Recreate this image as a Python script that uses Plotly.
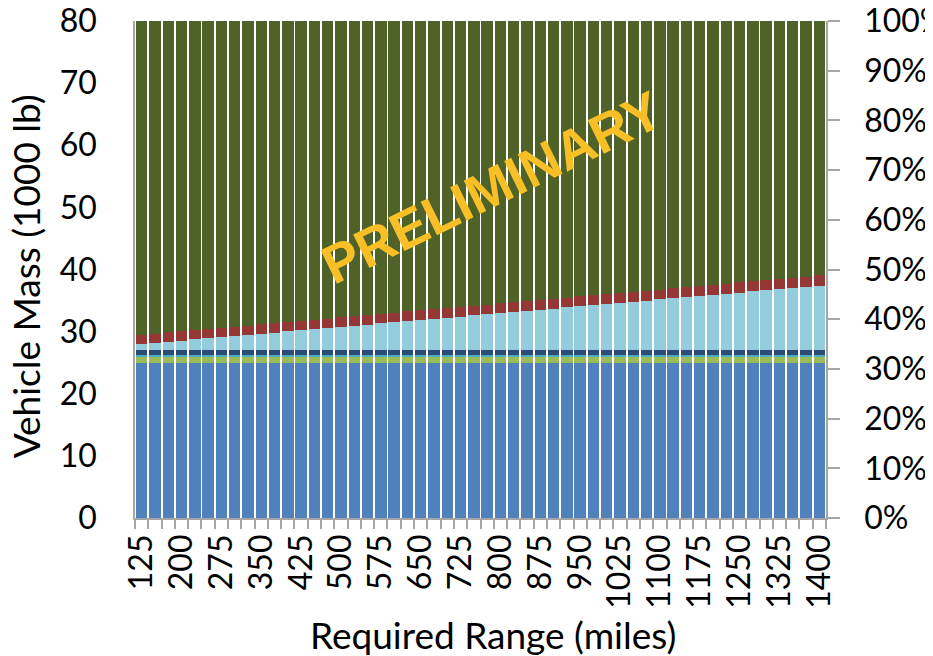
import plotly.graph_objects as go

ranges = [125 + 25 * i for i in range(52)]
tick_labels = [str(r) for r in ranges[::3]]
pct_vals = [0, 10, 20, 30, 40, 50, 60, 70, 80, 90, 100]
pct_labels = [f"{p}%" for p in pct_vals]

blue_base = [24.9] * 52
green_layer = [1.0] * 52
teal_layer = [0.35] * 52
navy_layer = [0.85] * 52
light_blue = [0.90, 1.08, 1.27, 1.45, 1.64, 1.82, 2.01, 2.19, 2.37, 2.56,
              2.74, 2.93, 3.11, 3.30, 3.48, 3.66, 3.85, 4.03, 4.22, 4.40,
              4.59, 4.77, 4.95, 5.14, 5.32, 5.51, 5.69, 5.88, 6.06, 6.24,
              6.43, 6.61, 6.80, 6.98, 7.17, 7.35, 7.53, 7.72, 7.90, 8.09,
              8.27, 8.46, 8.64, 8.82, 9.01, 9.19, 9.38, 9.56, 9.75, 9.93,
              10.11, 10.30]
red_layer = [1.50] * 10 + [1.53] * 10 + [1.56] * 10 + [1.59] * 10 + [1.62] * 6 + [1.65] * 6
dark_green = [50.50, 50.32, 50.13, 49.95, 49.76, 49.58, 49.39, 49.21, 49.03, 48.84,
              48.63, 48.44, 48.26, 48.07, 47.89, 47.71, 47.52, 47.34, 47.15, 46.97,
              46.75, 46.57, 46.39, 46.20, 46.02, 45.83, 45.65, 45.46, 45.28, 45.10,
              44.88, 44.70, 44.51, 44.33, 44.14, 43.96, 43.78, 43.59, 43.41, 43.22,
              43.01, 42.82, 42.64, 42.46, 42.27, 42.09, 41.87, 41.69, 41.50, 41.32,
              41.14, 40.95]

series = [
    ("Base", blue_base, "#4F81BD"),
    ("Layer 2", green_layer, "#9BBB59"),
    ("Layer 3", teal_layer, "#4BACC6"),
    ("Layer 4", navy_layer, "#2A4B74"),
    ("Layer 5", light_blue, "#93CDDD"),
    ("Layer 6", red_layer, "#953735"),
    ("Layer 7", dark_green, "#4F6228"),
]

fig = go.Figure()
for name, vals, col in series:
    fig.add_trace(go.Bar(x=ranges, y=vals, name=name, marker_color=col,
                         marker_line_width=0))

# invisible trace for the right percentage axis
fig.add_trace(go.Scatter(x=[ranges[0]], y=[0], yaxis="y2", mode="markers",
                         marker=dict(opacity=0), showlegend=False, hoverinfo="skip"))

font_family = "Lato"
axis_gray = "#A6A6A6"

fig.update_layout(
    width=925, height=648,
    margin=dict(l=127, r=107, t=13, b=138),
    barmode="stack", bargap=0.14,
    showlegend=False,
    plot_bgcolor="white", paper_bgcolor="white",
    font=dict(family=font_family, size=32, color="black"),
    xaxis=dict(
        automargin=False,
        range=[ranges[0] - 12.5, ranges[-1] + 12.5],
        tickmode="array", tickvals=ranges[::3], ticktext=tick_labels,
        tickangle=-90, ticks="", showgrid=False, zeroline=False,
        showline=True, linecolor=axis_gray, linewidth=1.5,
        ticklabelstandoff=2, tickfont=dict(size=32),
        minor=dict(tickmode="linear", tick0=ranges[0] - 12.5, dtick=25,
                   ticks="outside", ticklen=9, tickcolor=axis_gray, tickwidth=1.5,
                   showgrid=False),
    ),
    yaxis=dict(
        automargin=False,
        range=[0, 80], dtick=10, showgrid=False, zeroline=False,
        showline=True, linecolor=axis_gray, linewidth=1.5,
        ticks="", ticklabelstandoff=30, tickfont=dict(size=32),
        ticklabeloverflow="allow",
    ),
    yaxis2=dict(
        automargin=False,
        range=[0, 100], tickmode="array", tickvals=pct_vals, ticktext=pct_labels,
        overlaying="y", side="right", showgrid=False,
        zeroline=False, showline=True, linecolor=axis_gray, linewidth=1.5,
        ticks="outside", ticklen=12, tickcolor=axis_gray, tickwidth=1.5,
        ticklabelstandoff=18, tickfont=dict(size=32),
        ticklabeloverflow="allow",
    ),
    annotations=[
        dict(text="<b>PRELIMINARY</b>", xref="paper", yref="paper",
             x=0.517, y=0.665, showarrow=False, textangle=-26,
             font=dict(family="Liberation Sans", size=54, color="#F8BF27")),
        dict(text="Required Range (miles)", xref="paper", yref="paper",
             x=0.518, y=-0.234, xanchor="center", yanchor="middle",
             showarrow=False, font=dict(size=37)),
        dict(text="Vehicle Mass (1000 lb)", xref="paper", yref="paper",
             x=-0.158, y=0.486, xanchor="center", yanchor="middle",
             showarrow=False, textangle=-90, font=dict(size=37)),
    ],
)

fig.write_html("out.html")
